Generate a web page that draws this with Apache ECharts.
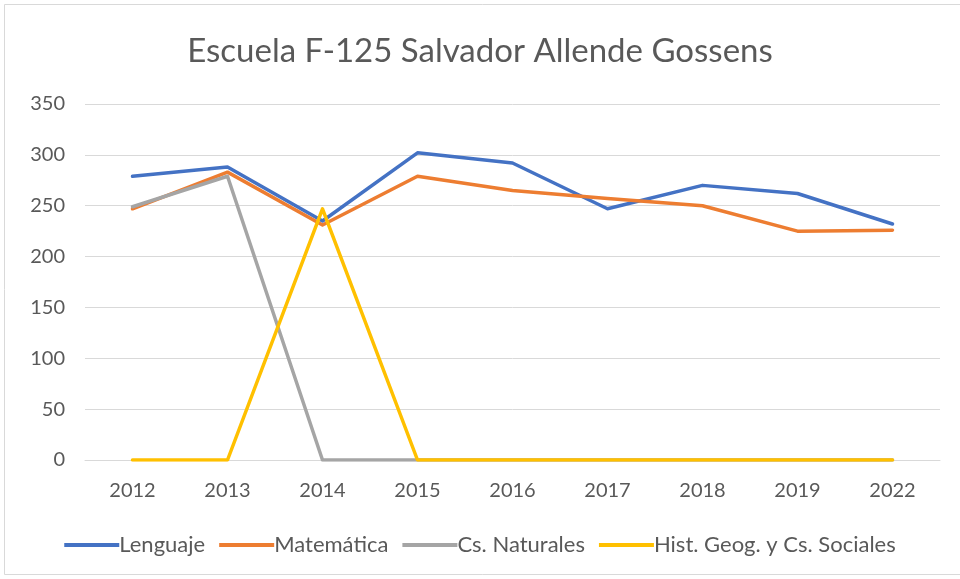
<!DOCTYPE html>
<html>
<head>
<meta charset="utf-8">
<script src="https://cdn.jsdelivr.net/npm/echarts@6/dist/echarts.min.js"></script>
<style>
  html, body { margin: 0; padding: 0; background: #fff; }
  #chart { width: 960px; height: 579px; }
</style>
</head>
<body>
<div id="chart"></div>
<script>
var years = ['2012', '2013', '2014', '2015', '2016', '2017', '2018', '2019', '2022'];
var lenguaje = [279, 288, 235, 302, 292, 247, 270, 262, 232];
var matematica = [247, 283, 231, 279, 265, 257, 250, 225, 226];
var naturales = [249, 279, 0, 0, 0, 0, 0, 0, 0];
var historia = [0, 0, 247, 0, 0, 0, 0, 0, 0];

var chart = echarts.init(document.getElementById('chart'));
var font = 'Lato';
var txt = '#595959';

function line(name, data, color) {
  return {
    name: name,
    type: 'line',
    data: data,
    symbol: 'none',
    lineStyle: { color: color, width: 3.5, cap: 'round', join: 'round' },
    itemStyle: { color: color }
  };
}

chart.setOption({
  animation: false,
  textStyle: { fontFamily: font },
  title: {
    text: 'Escuela F-125 Salvador Allende Gossens',
    left: 'center',
    top: 30,
    textStyle: { fontFamily: font, fontSize: 33, fontWeight: 'normal', color: txt }
  },
  legend: {
    bottom: 18,
    left: 'center',
    itemWidth: 55,
    itemHeight: 4,
    itemGap: 14,
    icon: 'rect',
    textStyle: { fontFamily: font, fontSize: 22, color: txt, padding: [0, 0, 0, -5] },
    data: ['Lenguaje', 'Matemática', 'Cs. Naturales', 'Hist. Geog. y Cs. Sociales']
  },
  grid: { left: 85, right: 20, top: 104, bottom: 119 },
  xAxis: {
    type: 'category',
    data: years,
    boundaryGap: true,
    axisLine: { show: true, lineStyle: { color: '#d9d9d9', width: 1 } },
    axisTick: { show: false },
    axisLabel: { fontFamily: font, fontSize: 20, color: txt, margin: 21 }
  },
  yAxis: {
    type: 'value',
    min: 0,
    max: 350,
    interval: 50,
    axisLine: { show: false },
    axisTick: { show: false },
    splitLine: { lineStyle: { color: '#d9d9d9', width: 1 } },
    axisLabel: { fontFamily: font, fontSize: 20, color: txt, margin: 20 }
  },
  series: [
    line('Lenguaje', lenguaje, '#4472C4'),
    line('Matemática', matematica, '#ED7D31'),
    line('Cs. Naturales', naturales, '#A5A5A5'),
    line('Hist. Geog. y Cs. Sociales', historia, '#FFC000')
  ],
  graphic: [{
    type: 'rect',
    shape: { x: 4.5, y: 4.5, width: 960, height: 570 },
    style: { fill: 'none', stroke: '#d9d9d9', lineWidth: 1 },
    silent: true
  }]
});
</script>
</body>
</html>
